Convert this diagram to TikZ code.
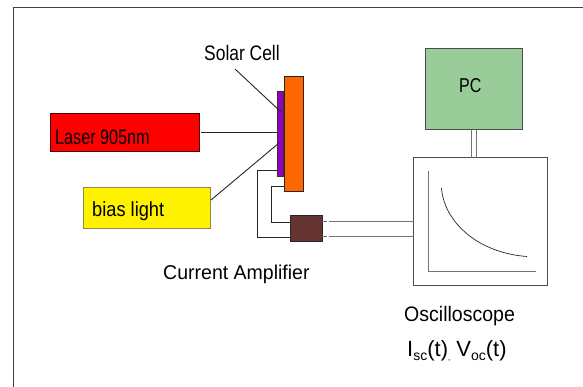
\documentclass[tikz,border=0pt]{standalone}
\usepackage{fontspec}
\usepackage{graphicx}
\setmainfont{Liberation Sans}
\newcommand{\sizedtext}[3]{\fontsize{#1}{#1}\selectfont\scalebox{#2}[1]{#3}}
\newcommand{\smallsub}[1]{\raisebox{-3.5pt}{\fontsize{14}{14}\selectfont #1}}
\begin{document}
\begin{tikzpicture}[x=1pt,y=-1pt,
  box/.style={draw=#1,line width=1pt,inner sep=0pt,outer sep=0pt,anchor=north west},
  wire/.style={draw=black!85,line width=0.9pt},
  pale/.style={draw=black!55,line width=1pt},
  lbl/.style={inner sep=0pt,text=black}]
\useasboundingbox (0,0) rectangle (583,387);
\draw[black!75,line width=0.9pt] (13.5,387) -- (13.5,7.5) -- (583,7.5);
% boxes
\node[box=black!70!red,fill=red,minimum width=149pt,minimum height=38.5pt] (laser) at (50,113.5) {};
\node[box=black!50!yellow,fill=yellow,minimum width=127pt,minimum height=41pt] (bias) at (83,188) {};
\node[box=black!80,fill={rgb,255:red,148;green,0;blue,190},minimum width=6pt,minimum height=85pt] (cell) at (277.5,92) {};
\node[box=black!85,fill={rgb,255:red,255;green,102;blue,0},minimum width=19.5pt,minimum height=115pt] (sub) at (284,77) {};
\node[box=black!85,fill={rgb,255:red,102;green,51;blue,51},minimum width=31.5pt,minimum height=26pt] (amp) at (290.5,216) {};
\node[box=black!70,fill={rgb,255:red,153;green,204;blue,153},minimum width=97pt,minimum height=81pt] (pc) at (425.5,49) {};
\node[box=black!70,fill=white,minimum width=134pt,minimum height=127pt] (scope) at (413.7,158) {};
% connector end points
\coordinate (la) at (201,132.5);
\coordinate (lb) at (cell.west|-la);
\coordinate (ba) at (211,200);
\coordinate (bb) at (279,143);
\coordinate (sa) at (235,69);
\coordinate (sb) at (281,112);
% connectors
\draw[wire] (la) -- (lb);
\draw[wire] (ba) -- (bb);
\draw[wire] (sa) -- (sb);
\coordinate (w1) at (271,186);
\coordinate (w2) at (271,222);
\coordinate (w3) at (257.5,170);
\coordinate (w4) at (257.5,237);
\draw[wire] (sub.west|-w1) -- (w1) -- (w2) -- (amp.west|-w2);
\draw[wire] (cell.west|-w3) -- (w3) -- (w4) -- (amp.west|-w4);
\draw[pale] (amp.east|-w2) -- (327,222) (329,222) -- (scope.west|-w2);
\draw[pale] (amp.east|-w4) -- (327,237) (329,237) -- (scope.west|-w4);
\coordinate (p1) at (471,130);
\coordinate (p2) at (476.5,130);
\draw[pale] (pc.south-|p1) -- (scope.north-|p1);
\draw[pale] (pc.south-|p2) -- (scope.north-|p2);
% scope trace
\draw[pale] (428,171) -- (428,271) -- (536,271);
\draw[black!85,line width=0.7pt] (441.5,188) .. controls (444,222) and (478,253) .. (527,256.5);
% labels
\node[lbl,anchor=base west] (tcell) at (204,60.5) {\sizedtext{21}{.83}{Solar Cell}};
\node[lbl,anchor=base west] (tlaser) at (55,145) {\sizedtext{21}{.77}{Laser 905nm}};
\node[lbl,anchor=base west] (tbias) at (92,216.5) {\sizedtext{20.5}{.89}{bias light}};
\node[lbl,anchor=base west] (tpc) at (459,93) {\sizedtext{20}{.8}{PC}};
\node[lbl,anchor=base west] (tamp) at (163,279) {\sizedtext{20}{.976}{Current Amplifier}};
\node[lbl,anchor=base west] (tosc) at (404,321.5) {\sizedtext{21}{.93}{Oscilloscope}};
\node[lbl,anchor=base west] (tsig) at (407,356.5) {\sizedtext{22}{1}{I\smallsub{sc}(t)\raisebox{-3.5pt}{\fontsize{8}{8}\selectfont ,} V\smallsub{oc}(t)}};
\end{tikzpicture}
\end{document}
